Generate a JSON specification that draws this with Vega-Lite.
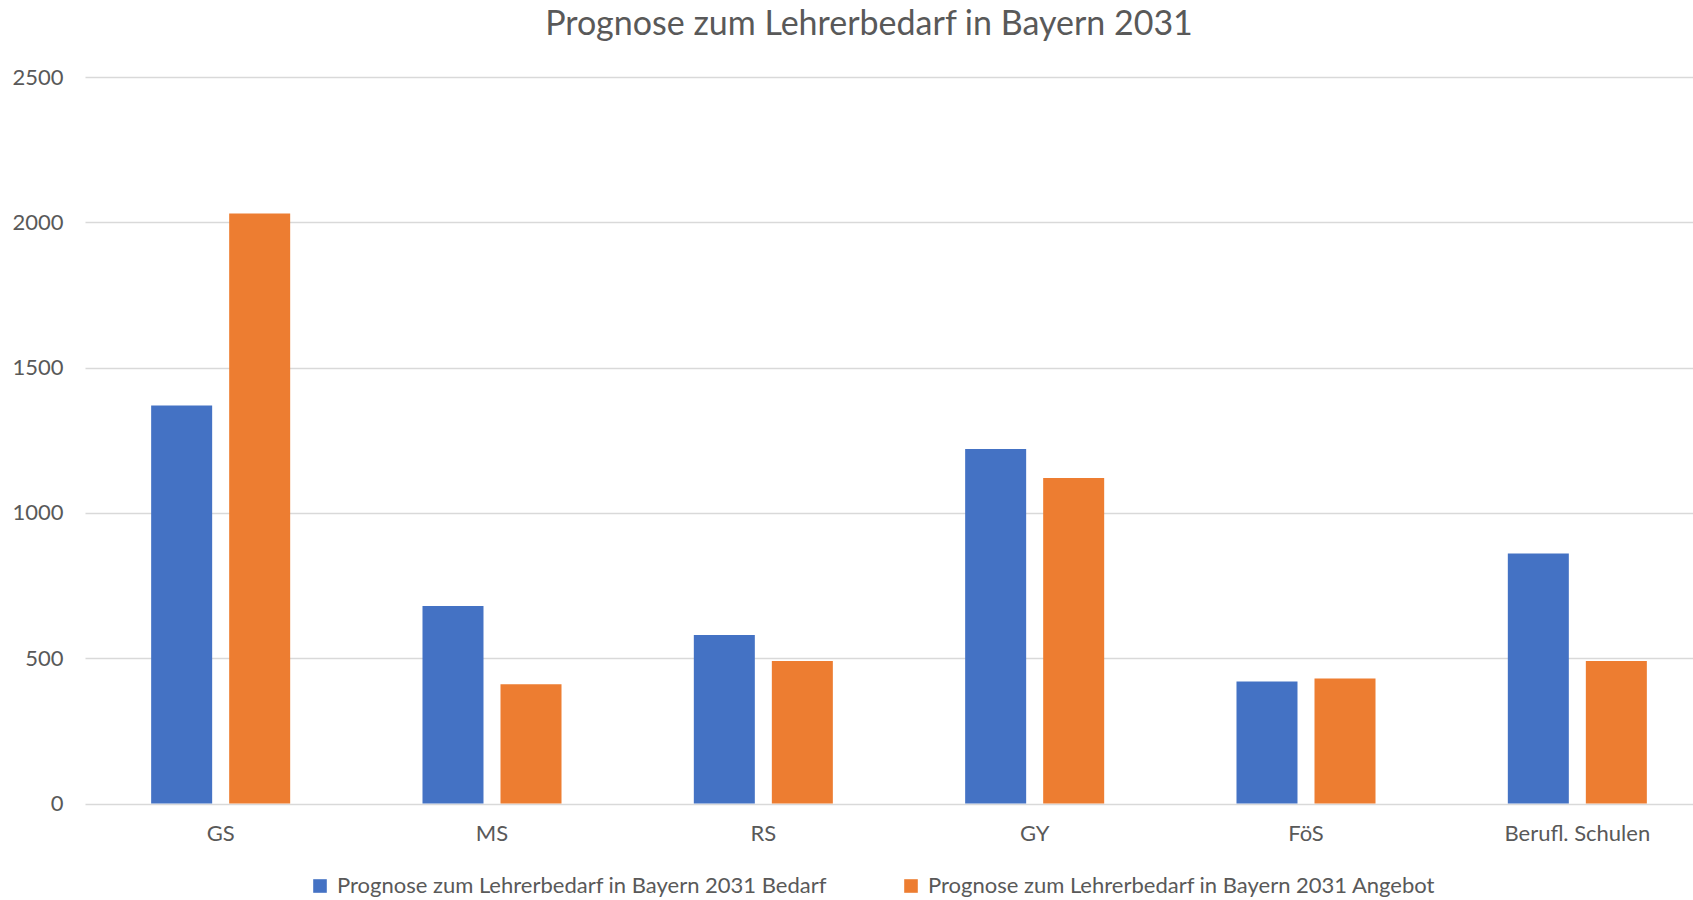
{
  "$schema": "https://vega.github.io/schema/vega-lite/v6.json",
  "autosize": {"type": "none"},
  "padding": {"left": 85, "top": 77, "right": 0, "bottom": 96},
  "width": 1608,
  "height": 726.5,
  "background": "white",
  "title": {
    "text": "Prognose zum Lehrerbedarf in Bayern 2031",
    "font": "Lato",
    "fontSize": 34,
    "fontWeight": "normal",
    "color": "#595959",
    "anchor": "middle",
    "frame": "group",
    "dx": -20,
    "baseline": "alphabetic",
    "offset": -3
  },
  "data": {
    "values": [
      {"Schulart": "GS", "Serie": "Prognose zum Lehrerbedarf in Bayern 2031 Bedarf", "Wert": 1370},
      {"Schulart": "GS", "Serie": "Prognose zum Lehrerbedarf in Bayern 2031 Angebot", "Wert": 2030},
      {"Schulart": "MS", "Serie": "Prognose zum Lehrerbedarf in Bayern 2031 Bedarf", "Wert": 680},
      {"Schulart": "MS", "Serie": "Prognose zum Lehrerbedarf in Bayern 2031 Angebot", "Wert": 410},
      {"Schulart": "RS", "Serie": "Prognose zum Lehrerbedarf in Bayern 2031 Bedarf", "Wert": 580},
      {"Schulart": "RS", "Serie": "Prognose zum Lehrerbedarf in Bayern 2031 Angebot", "Wert": 490},
      {"Schulart": "GY", "Serie": "Prognose zum Lehrerbedarf in Bayern 2031 Bedarf", "Wert": 1220},
      {"Schulart": "GY", "Serie": "Prognose zum Lehrerbedarf in Bayern 2031 Angebot", "Wert": 1120},
      {"Schulart": "FöS", "Serie": "Prognose zum Lehrerbedarf in Bayern 2031 Bedarf", "Wert": 420},
      {"Schulart": "FöS", "Serie": "Prognose zum Lehrerbedarf in Bayern 2031 Angebot", "Wert": 430},
      {"Schulart": "Berufl. Schulen", "Serie": "Prognose zum Lehrerbedarf in Bayern 2031 Bedarf", "Wert": 860},
      {"Schulart": "Berufl. Schulen", "Serie": "Prognose zum Lehrerbedarf in Bayern 2031 Angebot", "Wert": 490}
    ]
  },
  "mark": {"type": "bar"},
  "encoding": {
    "x": {
      "field": "Schulart",
      "type": "nominal",
      "sort": ["GS", "MS", "RS", "GY", "FöS", "Berufl. Schulen"],
      "scale": {"range": [0, 1628], "paddingInner": 0, "paddingOuter": 0},
      "axis": {
        "title": null,
        "domain": false,
        "ticks": false,
        "labelAngle": 0,
        "labelFont": "Lato",
        "labelFontSize": 22,
        "labelColor": "#595959",
        "labelPadding": 20
      }
    },
    "xOffset": {
      "field": "Serie",
      "type": "nominal",
      "sort": ["Prognose zum Lehrerbedarf in Bayern 2031 Bedarf", "Prognose zum Lehrerbedarf in Bayern 2031 Angebot"],
      "scale": {"paddingInner": 0.218, "paddingOuter": 0.848}
    },
    "y": {
      "field": "Wert",
      "type": "quantitative",
      "scale": {"domain": [0, 2500], "nice": false},
      "axis": {
        "title": null,
        "values": [0, 500, 1000, 1500, 2000, 2500],
        "format": "d",
        "domain": false,
        "ticks": false,
        "grid": true,
        "gridColor": "#d9d9d9",
        "gridWidth": 1.3,
        "labelFont": "Lato",
        "labelFontSize": 22,
        "labelColor": "#595959",
        "labelPadding": 22
      }
    },
    "color": {
      "field": "Serie",
      "type": "nominal",
      "sort": ["Prognose zum Lehrerbedarf in Bayern 2031 Bedarf", "Prognose zum Lehrerbedarf in Bayern 2031 Angebot"],
      "scale": {
        "domain": ["Prognose zum Lehrerbedarf in Bayern 2031 Bedarf", "Prognose zum Lehrerbedarf in Bayern 2031 Angebot"],
        "range": ["#4472c4", "#ed7d31"]
      },
      "legend": {
        "title": null,
        "orient": "none",
        "direction": "horizontal",
        "legendX": 224,
        "legendY": 798,
        "symbolType": "square",
        "symbolSize": 185,
        "symbolStrokeWidth": 0,
        "symbolOpacity": 1,
        "labelFont": "Lato",
        "labelFontSize": 22,
        "labelColor": "#595959",
        "labelOffset": 6,
        "labelLimit": 1000,
        "columnPadding": 73,
        "padding": 0
      }
    }
  },
  "config": {
    "view": {"stroke": null},
    "axis": {"labelFontWeight": "normal"}
  }
}
